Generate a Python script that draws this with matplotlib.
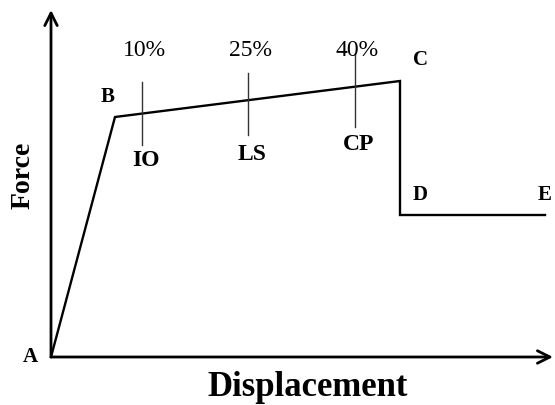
import numpy as np
import matplotlib
matplotlib.use("Agg")
import matplotlib.pyplot as plt

plt.rcParams['font.family'] = ['Liberation Serif', 'DejaVu Serif']

# backbone curve points (arbitrary units)
points = ['A', 'B', 'C', 'D', 'E']
disp = [0, 64, 349, 349, 494]
force = [0, 240, 276, 142, 142]

# performance levels along the B-C branch
levels = ['IO', 'LS', 'CP']
level_pct = ['10%', '25%', '40%']
level_disp = [91, 197, 304]

fig = plt.figure(figsize=(5.55, 4.05), dpi=100)
ax = fig.add_axes([0, 0, 1, 1])
ax.set_xlim(-51, 504)
ax.set_ylim(-48, 357)
ax.axis('off')

# axes with open arrow heads
arrow = dict(arrowstyle='->,head_length=0.9,head_width=0.45', lw=2, color='black',
             shrinkA=0, shrinkB=0)
ax.annotate('', xy=(0, 347), xytext=(0, 0), arrowprops=arrow)
ax.annotate('', xy=(502, 0), xytext=(0, 0), arrowprops=arrow)

ax.plot(disp, force, color='black', lw=1.7, solid_joinstyle='miter')

# point labels
offs = {'A': (-21, 0), 'B': (-7, 20), 'C': (20, 21), 'D': (20, 20), 'E': (0, 20)}
for p, x, y in zip(points, disp, force):
    dx, dy = offs[p]
    ax.text(x + dx, y + dy, p, fontsize=15, fontweight='bold', ha='center', va='center')

# level markers
up = [32, 27, 34]
down = [31, 35, 40]
gap = [5, 9, 7]
for name, pct, x, u, d, g in zip(levels, level_pct, level_disp, up, down, gap):
    yc = np.interp(x, disp[1:3], force[1:3])
    ax.plot([x, x], [yc - d, yc + u], color='#333333', lw=1)
    ax.text(x + 2, 307, pct, fontsize=17, ha='center', va='center')
    ax.text(x + 4, yc - d - g, name, fontsize=17, fontweight='bold', ha='center', va='top')

ax.text(-28, 182, 'Force', fontsize=20, fontweight='bold', rotation=90,
        ha='center', va='center')
ax.text(257, -30, 'Displacement', fontsize=25, fontweight='bold',
        ha='center', va='center')

fig.savefig('out.png', dpi=100)
